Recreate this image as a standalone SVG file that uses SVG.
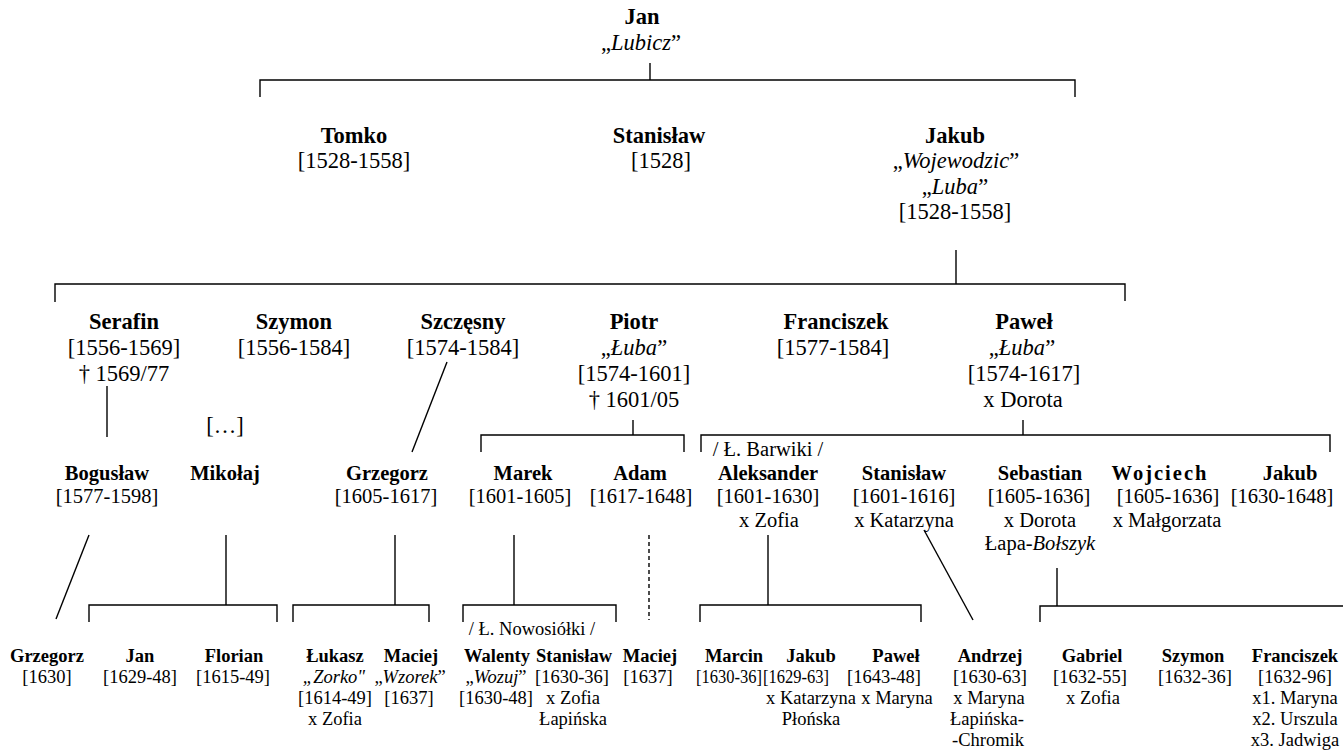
<svg xmlns="http://www.w3.org/2000/svg" width="1343" height="750" viewBox="0 0 1343 750">
<style>
text { font-family: "Liberation Serif", "Times New Roman", serif; fill: #000; text-anchor: middle; }
.b { font-weight: bold; }
.i { font-style: italic; }
.s0 { font-size: 22.5px; }
.s3 { font-size: 20.5px; }
.s4 { font-size: 18.5px; }
.ln { stroke: #000; stroke-width: 1.4; fill: none; }
.dash { stroke-dasharray: 4 3; }
</style>
<rect width="1343" height="750" fill="#fff"/>
<g id="connectors" class="ln">
  <path d="M650,63 V80"/>
  <path d="M260,97 V80 H1075 V97"/>
  <path d="M956,250 V284"/>
  <path d="M55,302 V284 H1125 V301"/>
  <path d="M107,386 V437"/>
  <path d="M447,362 L412,452"/>
  <path d="M633,420 V435"/>
  <path d="M481,452 V435 H684 V452"/>
  <path d="M1023,420 V435"/>
  <path d="M701,452 V435 H1330 V452"/>
  <path d="M89,535 L56,619"/>
  <path d="M226,535 V605"/>
  <path d="M89,622 V605 H277 V622"/>
  <path d="M395,535 V605"/>
  <path d="M293,622 V605 H429 V622"/>
  <path d="M514,535 V605"/>
  <path d="M463,622 V605 H616 V622"/>
  <path class="dash" d="M649,535 V620"/>
  <path d="M768,535 V605"/>
  <path d="M700,622 V605 H921 V622"/>
  <path d="M924,530 L973,620"/>
  <path d="M1057,568 V606"/>
  <path d="M1040,622 V606 H1343"/>
</g>
<g id="n-jan"><text class="s0"><tspan class="b" x="642" y="24">Jan</tspan><tspan x="641" y="50">„<tspan class="i">Lubicz</tspan>”</tspan></text></g>
<g id="n-tomko"><text class="s0"><tspan class="b" x="354" y="143">Tomko</tspan><tspan x="354" y="168">[1528-1558]</tspan></text></g>
<g id="n-stanislaw1"><text class="s0"><tspan class="b" x="659" y="143">Stanisław</tspan><tspan x="661" y="168">[1528]</tspan></text></g>
<g id="n-jakub1"><text class="s0"><tspan class="b" x="955" y="143">Jakub</tspan><tspan x="956" y="168">„<tspan class="i">Wojewodzic</tspan>”</tspan><tspan x="955" y="194">„<tspan class="i">Luba</tspan>”</tspan><tspan x="955" y="219">[1528-1558]</tspan></text></g>
<g id="n-serafin"><text class="s0"><tspan class="b" x="124" y="329">Serafin</tspan><tspan x="124" y="355">[1556-1569]</tspan><tspan x="124" y="381">† 1569/77</tspan></text></g>
<g id="n-szymon1"><text class="s0"><tspan class="b" x="294" y="329">Szymon</tspan><tspan x="294" y="355">[1556-1584]</tspan></text></g>
<g id="n-szczesny"><text class="s0"><tspan class="b" x="463" y="329">Szczęsny</tspan><tspan x="463" y="355">[1574-1584]</tspan></text></g>
<g id="n-piotr"><text class="s0"><tspan class="b" x="634" y="329">Piotr</tspan><tspan x="634" y="355">„<tspan class="i">Łuba</tspan>”</tspan><tspan x="634" y="381">[1574-1601]</tspan><tspan x="634" y="407">† 1601/05</tspan></text></g>
<g id="n-franciszek1"><text class="s0"><tspan class="b" x="836" y="329">Franciszek</tspan><tspan x="833" y="355">[1577-1584]</tspan></text></g>
<g id="n-pawel1"><text class="s0"><tspan class="b" x="1024" y="329">Paweł</tspan><tspan x="1022" y="355">„<tspan class="i">Łuba</tspan>”</tspan><tspan x="1024" y="381">[1574-1617]</tspan><tspan x="1023" y="407">x Dorota</tspan></text></g>
<g id="n-ellipsis"><text class="s0" x="225" y="433">[…]</text></g>
<g id="n-boguslaw"><text class="s3"><tspan class="b" x="107" y="480">Bogusław</tspan><tspan x="107" y="503">[1577-1598]</tspan></text></g>
<g id="n-mikolaj"><text class="s3"><tspan class="b" x="225" y="480">Mikołaj</tspan></text></g>
<g id="n-grzegorz1"><text class="s3"><tspan class="b" x="387" y="480">Grzegorz</tspan><tspan x="386" y="503">[1605-1617]</tspan></text></g>
<g id="n-marek"><text class="s3"><tspan class="b" x="523" y="480">Marek</tspan><tspan x="520" y="503">[1601-1605]</tspan></text></g>
<g id="n-adam"><text class="s3"><tspan class="b" x="640" y="480">Adam</tspan><tspan x="641" y="503">[1617-1648]</tspan></text></g>
<g id="n-aleksander"><text class="s3"><tspan x="768" y="456">/ Ł. Barwiki /</tspan><tspan class="b" x="768" y="480">Aleksander</tspan><tspan x="768" y="503">[1601-1630]</tspan><tspan x="769" y="527">x Zofia</tspan></text></g>
<g id="n-stanislaw3"><text class="s3"><tspan class="b" x="904" y="480">Stanisław</tspan><tspan x="904" y="503">[1601-1616]</tspan><tspan x="904" y="527">x Katarzyna</tspan></text></g>
<g id="n-sebastian"><text class="s3"><tspan class="b" x="1040" y="480">Sebastian</tspan><tspan x="1039" y="503">[1605-1636]</tspan><tspan x="1040" y="527">x Dorota</tspan><tspan x="1040" y="550">Łapa-<tspan class="i">Bołszyk</tspan></tspan></text></g>
<g id="n-wojciech"><text class="s3"><tspan class="b" x="1160" y="480" letter-spacing="2">Wojciech</tspan><tspan x="1168" y="503">[1605-1636]</tspan><tspan x="1167" y="527">x Małgorzata</tspan></text></g>
<g id="n-jakub3"><text class="s3"><tspan class="b" x="1290" y="480">Jakub</tspan><tspan x="1282" y="503">[1630-1648]</tspan></text></g>
<g id="n-grzegorz4"><text class="s4"><tspan class="b" x="47" y="662">Grzegorz</tspan><tspan x="47" y="683">[1630]</tspan></text></g>
<g id="n-jan4"><text class="s4"><tspan class="b" x="140" y="662">Jan</tspan><tspan x="140" y="683">[1629-48]</tspan></text></g>
<g id="n-florian"><text class="s4"><tspan class="b" x="234" y="662">Florian</tspan><tspan x="233" y="683">[1615-49]</tspan></text></g>
<g id="n-lukasz"><text class="s4"><tspan class="b" x="335" y="662">Łukasz</tspan><tspan class="i" x="334" y="683">„Zorko"</tspan><tspan x="335" y="704">[1614-49]</tspan><tspan x="335" y="725">x Zofia</tspan></text></g>
<g id="n-maciej1"><text class="s4"><tspan class="b" x="411" y="662">Maciej</tspan><tspan x="410" y="683">„<tspan class="i">Wzorek</tspan>”</tspan><tspan x="409" y="704">[1637]</tspan></text></g>
<g id="label-nowosiolki"><text class="s4" x="532" y="635">/ Ł. Nowosiółki /</text></g>
<g id="n-walenty"><text class="s4"><tspan class="b" x="497" y="662">Walenty</tspan><tspan x="496" y="683">„<tspan class="i">Wozuj</tspan>”</tspan><tspan x="496" y="704">[1630-48]</tspan></text></g>
<g id="n-stanislaw4"><text class="s4"><tspan class="b" x="574" y="662">Stanisław</tspan><tspan x="572" y="683">[1630-36]</tspan><tspan x="573" y="704">x Zofia</tspan><tspan x="573" y="725">Łapińska</tspan></text></g>
<g id="n-maciej2"><text class="s4"><tspan class="b" x="650" y="662">Maciej</tspan><tspan x="648" y="683">[1637]</tspan></text></g>
<g id="n-marcin"><text class="s4"><tspan class="b" x="734" y="662">Marcin</tspan><tspan x="729" y="683" textLength="66" lengthAdjust="spacingAndGlyphs">[1630-36]</tspan></text></g>
<g id="n-jakub4"><text class="s4"><tspan class="b" x="811" y="662">Jakub</tspan><tspan x="796" y="683" textLength="66" lengthAdjust="spacingAndGlyphs">[1629-63]</tspan><tspan x="811" y="704">x Katarzyna</tspan><tspan x="811" y="725">Płońska</tspan></text></g>
<g id="n-pawel4"><text class="s4"><tspan class="b" x="896" y="662">Paweł</tspan><tspan x="884" y="683">[1643-48]</tspan><tspan x="897" y="704">x Maryna</tspan></text></g>
<g id="n-andrzej"><text class="s4"><tspan class="b" x="990" y="662">Andrzej</tspan><tspan x="990" y="683">[1630-63]</tspan><tspan x="989" y="704">x Maryna</tspan><tspan x="987" y="725">Łapińska-</tspan><tspan x="988" y="746">-Chromik</tspan></text></g>
<g id="n-gabriel"><text class="s4"><tspan class="b" x="1092" y="662">Gabriel</tspan><tspan x="1090" y="683">[1632-55]</tspan><tspan x="1093" y="704">x Zofia</tspan></text></g>
<g id="n-szymon4"><text class="s4"><tspan class="b" x="1193" y="662">Szymon</tspan><tspan x="1195" y="683">[1632-36]</tspan></text></g>
<g id="n-franciszek4"><text class="s4"><tspan class="b" x="1295" y="662">Franciszek</tspan><tspan x="1295" y="683">[1632-96]</tspan><tspan x="1295" y="704">x1. Maryna</tspan><tspan x="1295" y="725">x2. Urszula</tspan><tspan x="1295" y="746">x3. Jadwiga</tspan></text></g>
</svg>
